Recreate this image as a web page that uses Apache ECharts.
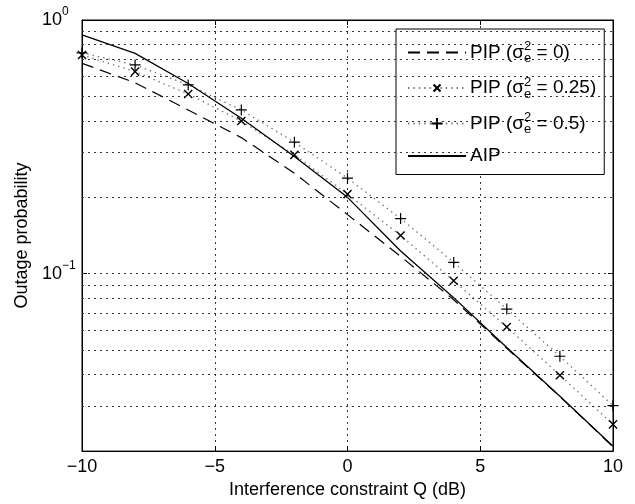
<!DOCTYPE html>
<html>
<head>
<meta charset="utf-8">
<script src="https://cdn.jsdelivr.net/npm/echarts@6/dist/echarts.min.js"></script>
<style>html,body{margin:0;padding:0;background:#fff}#c{width:635px;height:504px}</style>
</head>
<body>
<div id="c"></div>
<script>
// Data
const Q = [-10, -8, -6, -4, -2, 0, 2, 4, 6, 8, 10];
const PIP_0 = [0.675, 0.566, 0.442, 0.344, 0.249, 0.171, 0.117, 0.079, 0.0508, 0.0328, 0.0208];
const PIP_025 = [0.728, 0.626, 0.511, 0.40, 0.294, 0.206, 0.1415, 0.0938, 0.0617, 0.0398, 0.0255];
const PIP_05 = [0.742, 0.665, 0.555, 0.442, 0.33, 0.238, 0.165, 0.1108, 0.0726, 0.0473, 0.0302];
const AIP = [0.873, 0.739, 0.562, 0.41, 0.29, 0.20, 0.123, 0.0805, 0.0512, 0.0329, 0.0209];
const X_TICKS = [-10, -5, 0, 5, 10];
const Y_GRID = [0.03, 0.04, 0.05, 0.06, 0.07, 0.08, 0.09, 0.1, 0.2, 0.3, 0.4, 0.5, 0.6, 0.7, 0.8, 0.9];

const NAMES = ['PIP (σe2 = 0)', 'PIP (σe2 = 0.25)', 'PIP (σe2 = 0.5)', 'AIP'];
const LEGEND_RICH = {
  'PIP (σe2 = 0)': '{t|PIP (σ}{sup|2}{sub|e}{t| = 0)}',
  'PIP (σe2 = 0.25)': '{t|PIP (σ}{sup|2}{sub|e}{t| = 0.25)}',
  'PIP (σe2 = 0.5)': '{t|PIP (σ}{sup|2}{sub|e}{t| = 0.5)}',
  'AIP': '{a|AIP}'
};

const FONT = 'Liberation Sans, Arial, sans-serif';
const pairs = arr => Q.map((q, i) => [q, arr[i]]);
const minus = v => (v < 0 ? '\u2212' + Math.abs(v) : String(v));
const gridStyle = { color: '#333', width: 1, type: [2, 4] };
const NO_SYMBOL = 'path://M0,0M10,10';
// cross with empty margin in its box so the legend copy is drawn small
const CROSS = 'path://M-3,-3M13,13M0,0L10,10M10,0L0,10';
const PLUS = 'path://M5,0L5,10M0,5L10,5';

const chart = echarts.init(document.getElementById('c'), null, { renderer: 'canvas' });
chart.setOption({
  animation: false,
  backgroundColor: '#fff',
  grid: { left: 82, right: 22, top: 20, bottom: 52, show: true, borderColor: '#000', borderWidth: 1, backgroundColor: 'transparent' },
  xAxis: [{
    type: 'value', min: -10, max: 10, interval: 5,
    name: 'Interference constraint Q (dB)', nameLocation: 'middle', nameGap: 28,
    nameTextStyle: { fontFamily: FONT, fontSize: 18, color: '#000' },
    axisLine: { onZero: false, lineStyle: { color: '#000', width: 1 } },
    axisTick: { inside: true, length: 5, lineStyle: { color: '#000' } },
    axisLabel: { fontFamily: FONT, fontSize: 18, color: '#000', margin: 7, formatter: v => minus(v) },
    splitLine: { show: true, lineStyle: gridStyle }
  }, {
    type: 'value', min: -10, max: 10, interval: 5, position: 'top',
    axisLine: { onZero: false, lineStyle: { color: '#000' } },
    axisTick: { inside: true, length: 5, lineStyle: { color: '#000' } },
    axisLabel: { show: false }, splitLine: { show: false }
  }],
  yAxis: [{
    type: 'log', logBase: 10, min: 0.02, max: 1, position: 'left',
    name: 'Outage probability', nameLocation: 'middle', nameGap: 50, nameRotate: 90,
    nameTextStyle: { fontFamily: FONT, fontSize: 18, color: '#000' },
    axisLine: { onZero: false, lineStyle: { color: '#000' } },
    axisTick: { inside: true, length: 5, lineStyle: { color: '#000' } },
    axisLabel: {
      align: 'left', margin: 40,
      formatter: v => {
        const l = Math.log10(v), e = Math.round(l);
        if (Math.abs(l - e) > 1e-6) return '';
        return '{b|10}{s|' + minus(e) + '}';
      },
      rich: {
        b: { fontFamily: FONT, fontSize: 18, color: '#000', lineHeight: 20 },
        s: { fontFamily: FONT, fontSize: 12, color: '#000', lineHeight: 12, padding: [0, 0, 16, 0] }
      }
    },
    splitLine: { show: false }
  }, {
    type: 'log', logBase: 10, min: 0.02, max: 1, position: 'right',
    axisLine: { onZero: false, lineStyle: { color: '#000' } },
    axisTick: { inside: true, length: 5, lineStyle: { color: '#000' } },
    axisLabel: { show: false }, splitLine: { show: false }
  }],
  legend: {
    orient: 'vertical', left: 396, top: 29,
    itemWidth: 58, itemHeight: 14, itemGap: 10.5,
    padding: [11, 8, 9, 11],
    borderColor: '#000', borderWidth: 1, backgroundColor: '#fff',
    selectedMode: false,
    data: NAMES,
    formatter: name => LEGEND_RICH[name],
    textStyle: {
      fontFamily: FONT, fontSize: 19, color: '#000', padding: [0, 0, 0, -1],
      rich: {
        t: { fontFamily: FONT, fontSize: 19, color: '#000', lineHeight: 20 },
        sup: { fontFamily: FONT, fontSize: 13, color: '#000', lineHeight: 13, padding: [0, 0, 12, 0], width: 0.1 },
        sub: { fontFamily: FONT, fontSize: 13, color: '#000', lineHeight: 13, padding: [12, 0, 0, 0] },
        a: { fontFamily: FONT, fontSize: 19, color: '#000', lineHeight: 14 }
      }
    }
  },
  series: [{
    name: NAMES[0], type: 'line', data: pairs(PIP_0), symbol: NO_SYMBOL, showSymbol: false,
    lineStyle: { color: '#000', width: 1.2, type: [12, 7] },
    itemStyle: { color: '#000' }, emphasis: { disabled: true }, z: 3
  }, {
    name: NAMES[1], type: 'line', data: pairs(PIP_025),
    symbol: CROSS, symbolSize: 13,
    itemStyle: { color: '#000', borderColor: '#000', borderWidth: 1.4 },
    lineStyle: { color: '#777', width: 1.4, type: [1.4, 4] },
    emphasis: { disabled: true }, z: 3
  }, {
    name: NAMES[2], type: 'line', data: pairs(PIP_05),
    symbol: PLUS, symbolSize: 11,
    itemStyle: { color: '#000', borderColor: '#000', borderWidth: 1.2 },
    lineStyle: { color: '#777', width: 1.4, type: [1.4, 4] },
    emphasis: { disabled: true }, z: 3
  }, {
    name: NAMES[3], type: 'line', data: pairs(AIP), symbol: NO_SYMBOL, showSymbol: false,
    lineStyle: { color: '#000', width: 1.3, type: 'solid' },
    itemStyle: { color: '#000' }, emphasis: { disabled: true }, z: 3,
    markLine: {
      silent: true, symbol: ['none', 'none'], label: { show: false },
      lineStyle: gridStyle, emphasis: { disabled: true },
      data: Y_GRID.map(v => ({ yAxis: v }))
    }
  }]
});
</script>
</body>
</html>
